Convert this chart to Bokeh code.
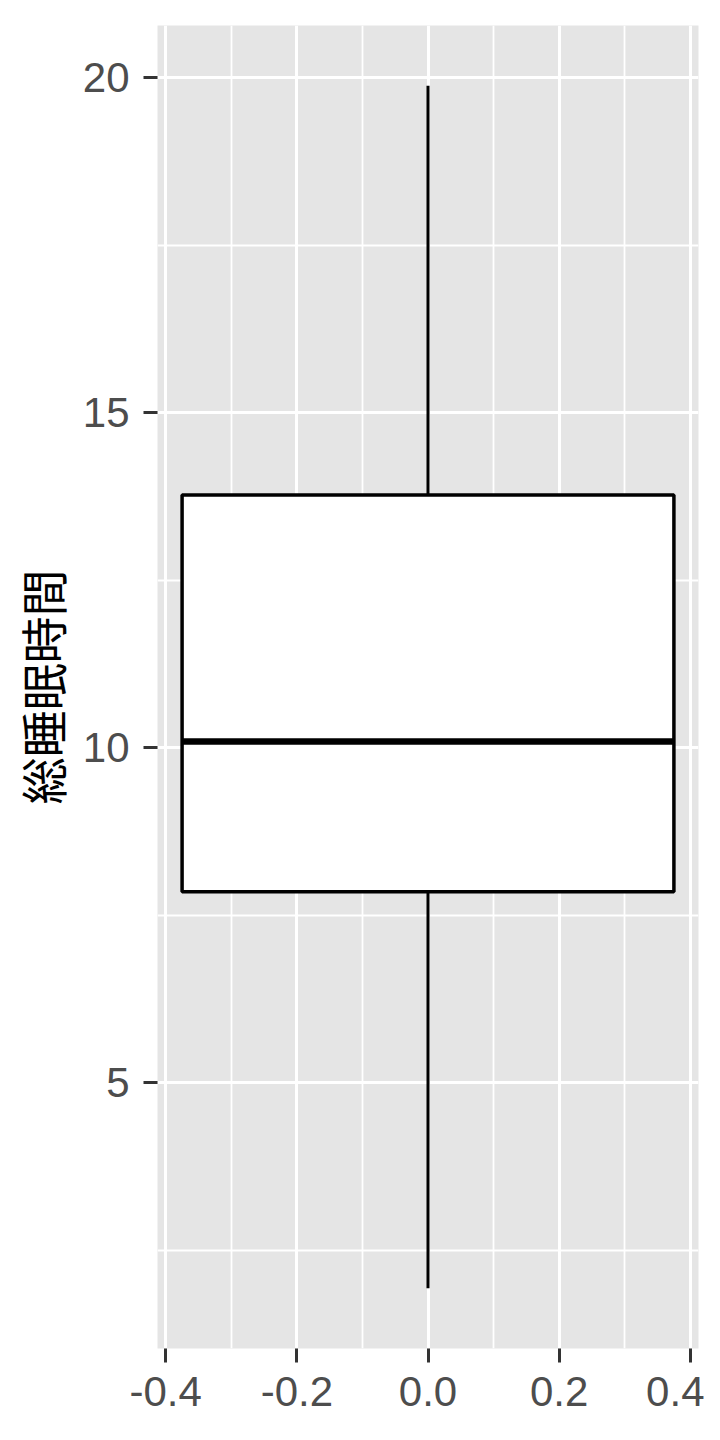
from bokeh.plotting import figure
from bokeh.models import FixedTicker, PrintfTickFormatter, Range1d
from bokeh.embed import file_html
from bokeh.resources import INLINE

# data
xpos = [0.0]
box_width = [0.75]
lower = [1.93]
q1 = [7.85]
median = [10.09]
q3 = [13.77]
upper = [19.88]

y_ticks = [5, 10, 15, 20]
y_minor = [2.5, 7.5, 12.5, 17.5]
x_ticks = [-0.4, -0.2, 0.0, 0.2, 0.4]
x_minor = [-0.3, -0.1, 0.1, 0.3]
y_label = "総睡眠時間"

lefts = [x - w / 2 for x, w in zip(xpos, box_width)]
rights = [x + w / 2 for x, w in zip(xpos, box_width)]
span = max(upper) - min(lower)
xspan = max(rights) - min(lefts)

p = figure(width=704, height=1432, output_backend="svg", toolbar_location=None,
           x_range=Range1d(min(lefts) - 0.05 * xspan, max(rights) + 0.05 * xspan),
           y_range=Range1d(min(lower) - 0.05 * span, max(upper) + 0.05 * span),
           min_border_left=157, min_border_right=6, min_border_top=25, min_border_bottom=84)
p.background_fill_color = "#E5E5E5"
p.border_fill_color = "white"
p.outline_line_color = None

# grids
p.xgrid.ticker = FixedTicker(ticks=x_ticks, minor_ticks=x_minor)
p.ygrid.ticker = FixedTicker(ticks=y_ticks, minor_ticks=y_minor)
for g in (p.xgrid[0], p.ygrid[0]):
    g.grid_line_color = "white"
    g.grid_line_width = 3
    g.minor_grid_line_color = "white"
    g.minor_grid_line_width = 1.8

# axes
p.xaxis.ticker = FixedTicker(ticks=x_ticks)
p.yaxis.ticker = FixedTicker(ticks=y_ticks)
p.xaxis.formatter = PrintfTickFormatter(format="%.1f")
p.yaxis.formatter = PrintfTickFormatter(format="%d")
for ax in (p.xaxis[0], p.yaxis[0]):
    ax.axis_line_color = None
    ax.major_tick_line_color = "#333333"
    ax.major_tick_line_width = 3
    ax.major_tick_out = 14
    ax.major_tick_in = 0
    ax.minor_tick_line_color = None
    ax.major_label_text_font = "Liberation Sans"
    ax.major_label_text_font_size = "42px"
    ax.major_label_text_color = "#4D4D4D"
p.xaxis.major_label_standoff = 14
p.yaxis.major_label_standoff = 14
p.yaxis.axis_label = y_label
p.yaxis.axis_label_text_font = "Noto Sans CJK JP"
p.yaxis.axis_label_text_font_size = "47px"
p.yaxis.axis_label_text_font_style = "normal"
p.yaxis.axis_label_text_color = "black"
p.yaxis.axis_label_standoff = 4

# whiskers
p.segment(x0=xpos, y0=lower, x1=xpos, y1=q1, line_color="black", line_width=3)
p.segment(x0=xpos, y0=q3, x1=xpos, y1=upper, line_color="black", line_width=3)
# box
p.quad(left=lefts, right=rights, bottom=q1, top=q3, fill_color="white",
       line_color="black", line_width=3.5)
# median
p.segment(x0=lefts, y0=median, x1=rights, y1=median, line_color="black", line_width=6.5)

open("out.html", "w").write(file_html(p, INLINE))
